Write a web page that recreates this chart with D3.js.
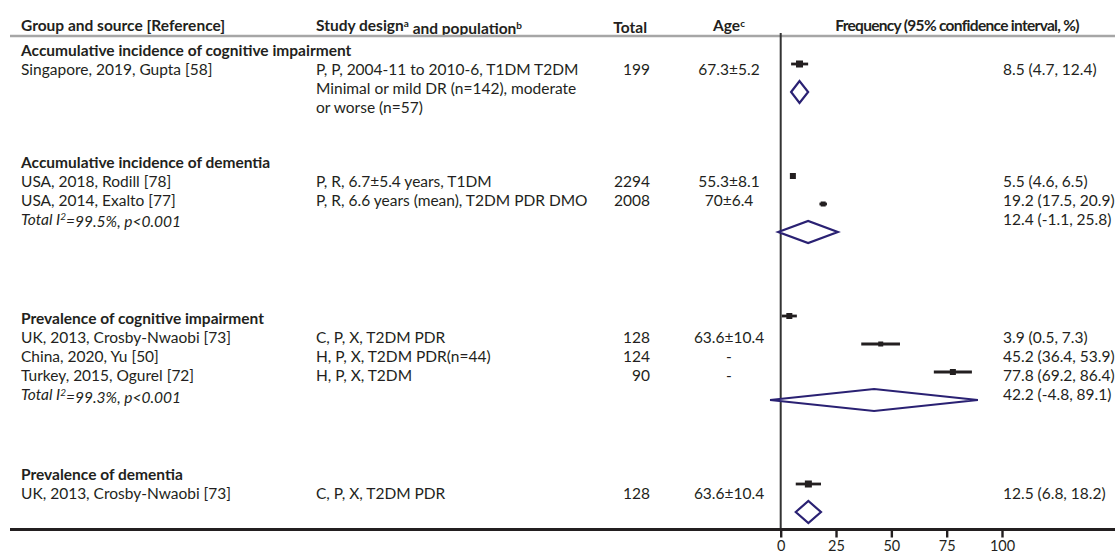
<!DOCTYPE html>
<html>
<head>
<meta charset="utf-8">
<script src="https://cdn.jsdelivr.net/npm/d3@7"></script>
<style>
  html, body { margin: 0; padding: 0; background: #fff; }
  svg text { font-family: Lato, "Open Sans", sans-serif; fill: #231f20; }
</style>
</head>
<body>
<svg id="chart" width="1115" height="556"></svg>
<script>
// ---------------- DATA ----------------
const groupTitles = [
  "Accumulative incidence of cognitive impairment",
  "Accumulative incidence of dementia",
  "Prevalence of cognitive impairment",
  "Prevalence of dementia"
];
const studySources = [
  "Singapore, 2019, Gupta [58]",
  "USA, 2018, Rodill [78]",
  "USA, 2014, Exalto [77]",
  "UK, 2013, Crosby-Nwaobi [73]",
  "China, 2020, Yu [50]",
  "Turkey, 2015, Ogurel [72]",
  "UK, 2013, Crosby-Nwaobi [73]"
];
const studyGroups = [0, 1, 1, 2, 2, 2, 3];
const studyDesigns = [
  ["P, P, 2004-11 to 2010-6, T1DM T2DM", "Minimal or mild DR (n=142), moderate", "or worse (n=57)"],
  ["P, R, 6.7±5.4 years, T1DM"],
  ["P, R, 6.6 years (mean), T2DM PDR DMO"],
  ["C, P, X, T2DM PDR"],
  ["H, P, X, T2DM PDR(n=44)"],
  ["H, P, X, T2DM"],
  ["C, P, X, T2DM PDR"]
];
const studyTotals = [199, 2294, 2008, 128, 124, 90, 128];
const studyAges = ["67.3±5.2", "55.3±8.1", "70±6.4", "63.6±10.4", "-", "-", "63.6±10.4"];
const studyEst = [8.5, 5.5, 19.2, 3.9, 45.2, 77.8, 12.5];
const studyLo  = [4.7, 4.6, 17.5, 0.5, 36.4, 69.2, 6.8];
const studyHi  = [12.4, 6.5, 20.9, 7.3, 53.9, 86.4, 18.2];

const pooledEst = [8.5, 12.4, 42.2, 12.5];
const pooledLo  = [4.7, -1.1, -4.8, 6.8];
const pooledHi  = [12.4, 25.8, 89.1, 18.2];
const pooledI2  = [null, "99.5%", "99.3%", null];
const pooledP   = [null, "p<0.001", "p<0.001", null];

const xTicks = [0, 25, 50, 75, 100];

// ---------------- LAYOUT ----------------
const W = 1115, H = 556;
const svg = d3.select("#chart");
const FS = 15.5;
const colSource = 21, colDesign = 316, colTotalRight = 650, colAge = 729, colRight = 1003;
const headerY = 26, headerLineY = 36, bottomLineY = 529.5;
const lineGap = 18.9;
const groupHeaderY = [51, 162.5, 319, 475];     // text row centres of group titles
const studyMarkRow = [0, 4, 5, 9, 10, 11, 15];  // forest mark rows
const pooledMarkRow = [1, 6, 12, 16];
const markY = r => 64 + 28 * r;
const markSize = [7, 6, 5, 6, 5, 6, 7];

const x = d3.scaleLinear().domain([0, 100]).range([780.7, 1002]);

const fmt1 = d => d.toFixed(1);
const ciText = (e, l, h) => `${fmt1(e)} (${fmt1(l)}, ${fmt1(h)})`;

function txt(xp, yc, s, opts = {}) {
  const t = svg.append("text")
    .attr("x", xp).attr("y", yc).attr("dy", "0.35em")
    .style("font-size", (opts.size || FS) + "px")
    .attr("text-anchor", opts.anchor || "start");
  if (opts.bold) t.style("font-weight", "bold");
  if (opts.italic) t.style("font-style", "italic");
  if (s != null) t.text(s);
  return t;
}
function sup(t, s) {
  t.append("tspan").attr("dy", "-0.45em").style("font-size", "10px").text(s);
}

// Header
txt(colSource, headerY, "Group and source [Reference]", { bold: true });
const hd = txt(colDesign, headerY, null, { bold: true });
hd.append("tspan").text("Study design");
sup(hd, "a");
hd.append("tspan").attr("dy", "0.45em").text(" and population");
sup(hd, "b");
txt(647, headerY + 2, "Total", { bold: true, anchor: "end" });
const ha = txt(colAge, headerY, null, { bold: true, anchor: "middle" });
ha.append("tspan").text("Age");
sup(ha, "c");
txt(957, headerY, "Frequency (95% confidence interval, %)", { bold: true, anchor: "middle" })
  .style("letter-spacing", "-0.7px");

// header rule
svg.append("line").attr("x1", 10).attr("x2", W).attr("y1", headerLineY).attr("y2", headerLineY)
  .attr("stroke", "#a6a6a6").attr("stroke-width", 2.5);

// Text rows
groupTitles.forEach((g, gi) => {
  txt(colSource, groupHeaderY[gi], g, { bold: true });
  let row = 1;
  studySources.forEach((s, si) => {
    if (studyGroups[si] !== gi) return;
    const y0 = groupHeaderY[gi] + row * lineGap;
    txt(colSource, y0, s);
    studyDesigns[si].forEach((d, k) => txt(colDesign, y0 + k * lineGap, d));
    txt(colTotalRight, y0, studyTotals[si], { anchor: "end" });
    txt(colAge, y0, studyAges[si], { anchor: "middle" });
    txt(colRight, y0, ciText(studyEst[si], studyLo[si], studyHi[si]));
    row += studyDesigns[si].length;
  });
  if (pooledI2[gi]) {
    const yp = groupHeaderY[gi] + row * lineGap;
    const t = txt(colSource, yp, null, { italic: true });
    t.append("tspan").text("Total I");
    sup(t, "2");
    t.append("tspan").attr("dy", "0.45em").text(`=${pooledI2[gi]}, ${pooledP[gi]}`);
    txt(colRight, yp, ciText(pooledEst[gi], pooledLo[gi], pooledHi[gi]));
  }
});

// vertical reference line at 0
svg.append("line").attr("x1", x(0)).attr("x2", x(0)).attr("y1", 33).attr("y2", bottomLineY)
  .attr("stroke", "#333").attr("stroke-width", 2);

// study CIs and squares
const studies = studyEst.map((e, i) => ({ e, lo: studyLo[i], hi: studyHi[i], y: markY(studyMarkRow[i]), s: markSize[i] }));
svg.append("g").selectAll("line").data(studies).join("line")
  .attr("x1", d => x(d.lo)).attr("x2", d => x(d.hi))
  .attr("y1", d => d.y).attr("y2", d => d.y)
  .attr("stroke", "#231f20").attr("stroke-width", 2.8);
svg.append("g").selectAll("rect").data(studies).join("rect")
  .attr("x", d => x(d.e) - d.s / 2).attr("y", d => d.y - d.s / 2)
  .attr("width", d => d.s).attr("height", d => d.s)
  .attr("fill", "#231f20");

// pooled diamonds
const pooled = pooledEst.map((e, i) => ({ e, lo: pooledLo[i], hi: pooledHi[i], y: markY(pooledMarkRow[i]) }));
svg.append("g").selectAll("path").data(pooled).join("path")
  .attr("d", d => `M${x(d.lo)},${d.y} L${x(d.e)},${d.y - 11} L${x(d.hi)},${d.y} L${x(d.e)},${d.y + 11} Z`)
  .attr("fill", "#fff").attr("stroke", "#2a2173").attr("stroke-width", 2.2);

// bottom rule
svg.append("line").attr("x1", 10).attr("x2", W).attr("y1", bottomLineY).attr("y2", bottomLineY)
  .attr("stroke", "#231f20").attr("stroke-width", 2.8);

// x axis
const ax = svg.append("g").attr("transform", `translate(0,${bottomLineY})`)
  .call(d3.axisBottom(x).tickValues(xTicks).tickSize(8).tickPadding(3).tickFormat(d3.format("d")));
ax.select(".domain").remove();
ax.selectAll(".tick line").attr("stroke", "#231f20").attr("stroke-width", 2.4);
ax.selectAll(".tick text").style("font-size", "14.5px").style("font-family", "Lato, sans-serif").attr("fill", "#231f20");
</script>
</body>
</html>
